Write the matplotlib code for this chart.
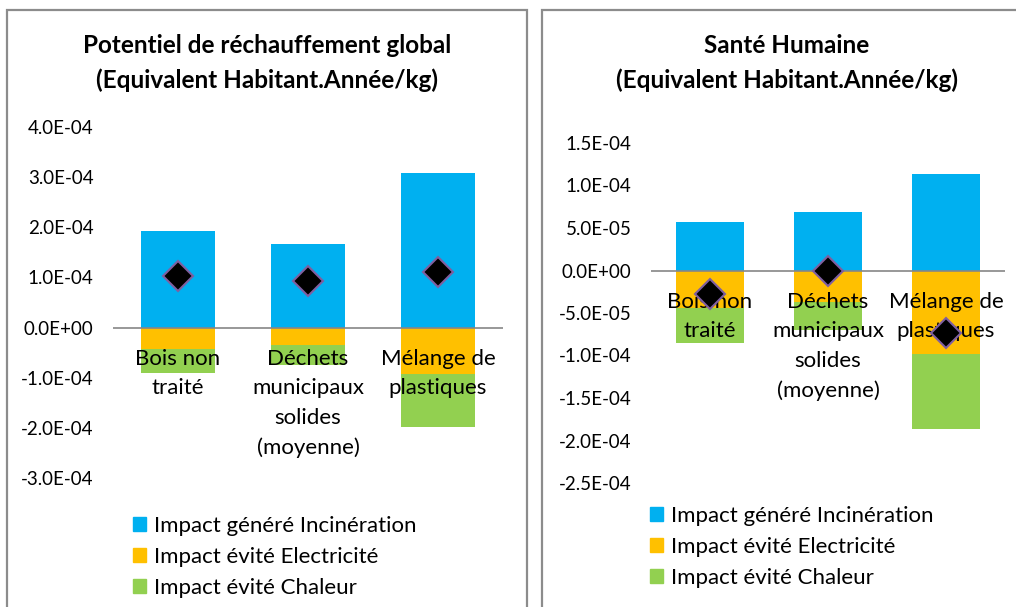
import matplotlib.pyplot as plt
from matplotlib.patches import Rectangle, Patch

plt.rcParams['font.family'] = ['Lato', 'DejaVu Sans']

categories = ["Bois non\ntraité", "Déchets\nmunicipaux\nsolides\n(moyenne)", "Mélange de\nplastiques"]
series_names = ["Impact généré Incinération", "Impact évité Electricité", "Impact évité Chaleur"]

# Potentiel de réchauffement global
gwp_incineration = [1.93e-4, 1.67e-4, 3.08e-4]
gwp_electricite = [-0.42e-4, -0.35e-4, -0.93e-4]
gwp_chaleur = [-0.48e-4, -0.40e-4, -1.05e-4]
gwp_net = [1.03e-4, 0.92e-4, 1.10e-4]
gwp_ticks = [-3e-4, -2e-4, -1e-4, 0, 1e-4, 2e-4, 3e-4, 4e-4]

# Santé humaine
sh_incineration = [5.7e-5, 6.9e-5, 11.3e-5]
sh_electricite = [-4.4e-5, -3.7e-5, -9.8e-5]
sh_chaleur = [-4.1e-5, -3.3e-5, -8.9e-5]
sh_net = [-2.8e-5, -0.1e-5, -7.4e-5]
sh_ticks = [-2.5e-4, -2e-4, -1.5e-4, -1e-4, -5e-5, 0, 5e-5, 1e-4, 1.5e-4]

colors = ["#00B0F0", "#FFC000", "#92D050"]
W, H = 1016, 607


def draw_panel(ax, pos_vals, elec, chal, net, ticks, title, title_xy, legend_xy):
    x = range(len(categories))
    ax.bar(x, pos_vals, width=0.57, color=colors[0], zorder=2)
    ax.bar(x, elec, width=0.57, color=colors[1], zorder=2)
    ax.bar(x, chal, width=0.57, bottom=elec, color=colors[2], zorder=2)
    ax.axhline(0, color="#868686", lw=1.2, zorder=3)
    ax.plot(x, net, linestyle="none", marker="D", ms=15.5, mfc="black",
            mec="#7F5FA0", mew=1.5, zorder=5)
    for i, lab in enumerate(categories):
        ax.annotate(lab, xy=(i, 0), xytext=(0, -15.5), textcoords="offset points",
                    ha="center", va="top", fontsize=16, linespacing=1.58,
                    zorder=4)
    ax.set_xlim(-0.5, len(categories) - 0.5)
    ax.set_ylim(ticks[0], ticks[-1])
    ax.set_yticks(ticks)
    ax.set_yticklabels([f"{t:.1E}" for t in ticks], fontsize=13.5)
    ax.tick_params(length=0, pad=14)
    ax.set_xticks([])
    for s in ax.spines.values():
        s.set_visible(False)
    fig.text(title_xy[0] / W, 1 - title_xy[1] / H, title, ha="center", va="top",
             fontsize=17.5, fontweight="bold", linespacing=1.6)
    handles = [Patch(color=c, label=n) for c, n in zip(colors, series_names)]
    fig.legend(handles=handles, loc="upper left",
               bbox_to_anchor=(legend_xy[0] / W, 1 - legend_xy[1] / H),
               frameon=False, fontsize=16, handlelength=0.6, handleheight=0.6,
               handletextpad=0.35, labelspacing=0.5, borderpad=0, borderaxespad=0)


fig = plt.figure(figsize=(W / 100, H / 100), dpi=100)

# panel frames
fig.patches.append(Rectangle((7 / W, -0.1), 520 / W, 1.1 - 10 / H, transform=fig.transFigure,
                             fill=False, ec="#8C8C8C", lw=1.6))
fig.patches.append(Rectangle((542 / W, -0.1), 500 / W, 1.1 - 10 / H, transform=fig.transFigure,
                             fill=False, ec="#8C8C8C", lw=1.6))

ax1 = fig.add_axes([113 / W, 1 - 478 / H, 390 / W, 351 / H])
draw_panel(ax1, gwp_incineration, gwp_electricite, gwp_chaleur, gwp_net, gwp_ticks,
           "Potentiel de réchauffement global\n(Equivalent Habitant.Année/kg)",
           (267, 34), (133, 516))

ax2 = fig.add_axes([651 / W, 1 - 483 / H, 354 / W, 340 / H])
draw_panel(ax2, sh_incineration, sh_electricite, sh_chaleur, sh_net, sh_ticks,
           "Santé Humaine\n(Equivalent Habitant.Année/kg)",
           (787, 34), (650, 506))

fig.savefig("out.png", dpi=100)
